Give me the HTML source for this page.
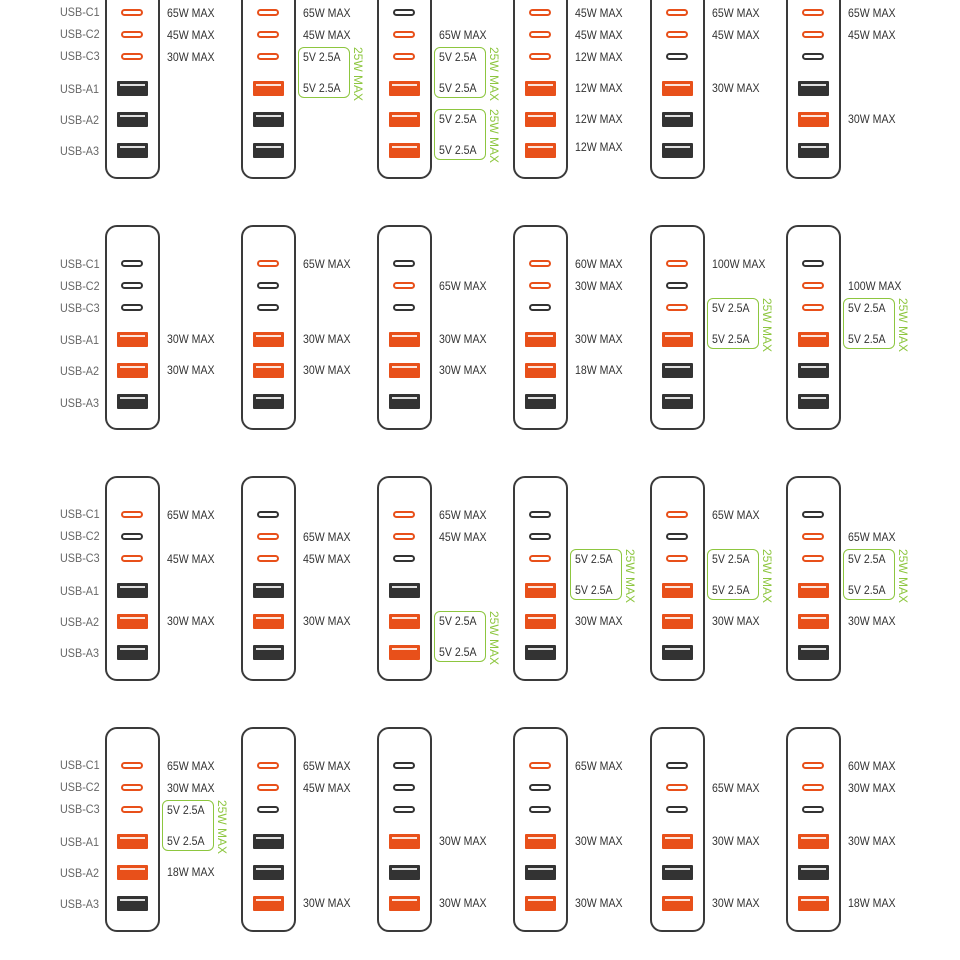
<!DOCTYPE html>
<html><head><meta charset="utf-8"><style>
body{margin:0;width:960px;height:960px;background:#fff;position:relative;overflow:hidden;font-family:"Liberation Sans",sans-serif;}
.d{position:absolute;width:55px;height:205px;box-sizing:border-box;border:2px solid #3a3a3a;border-radius:12px;}
.c{position:absolute;left:14px;top:0;width:22px;height:7px;box-sizing:border-box;border:2px solid #333;border-radius:4px;}
.a{position:absolute;left:10px;width:31px;height:15px;background:#333;border-radius:1px;}
.a:after{content:"";position:absolute;left:3px;right:3px;top:3px;height:2px;background:#fff;opacity:.85;}
.o.c{border-color:#e8501a}.o.a{background:#e8501a}
.c1{top:33px}.c2{top:55px}.c3{top:77px}.a1{top:105px}.a2{top:136px}.a3{top:167px}
.l{position:absolute;left:60px;font-size:12px;line-height:14px;color:#333;white-space:nowrap;transform:scaleX(0.88);transform-origin:0 0;}
.t1{top:30px}.t2{top:52px}.t3{top:74px}.u1{top:105px}.u2{top:136px}.u3{top:167px}
.g{position:absolute;left:55px;top:71px;width:52px;height:51px;box-sizing:border-box;border:1.5px solid #8dc63f;border-radius:6px;}
.g.lo{top:133px}
.v{position:absolute;left:108px;top:71px;height:51px;width:14px;writing-mode:vertical-rl;font-size:12px;color:#8dc63f;text-align:center;line-height:14px;white-space:nowrap;}
.v.lo{top:133px}
.n{position:absolute;left:60px;font-size:12px;color:#666;line-height:14px;transform:scaleX(0.9);transform-origin:0 0;}
</style></head><body>
<div class="n" style="top:5px">USB-C1</div><div class="n" style="top:27px">USB-C2</div><div class="n" style="top:49px">USB-C3</div><div class="n" style="top:82px">USB-A1</div><div class="n" style="top:113px">USB-A2</div><div class="n" style="top:144px">USB-A3</div>
<div class="n" style="top:257px">USB-C1</div><div class="n" style="top:279px">USB-C2</div><div class="n" style="top:301px">USB-C3</div><div class="n" style="top:333px">USB-A1</div><div class="n" style="top:364px">USB-A2</div><div class="n" style="top:396px">USB-A3</div>
<div class="n" style="top:507px">USB-C1</div><div class="n" style="top:529px">USB-C2</div><div class="n" style="top:551px">USB-C3</div><div class="n" style="top:584px">USB-A1</div><div class="n" style="top:615px">USB-A2</div><div class="n" style="top:646px">USB-A3</div>
<div class="n" style="top:758px">USB-C1</div><div class="n" style="top:780px">USB-C2</div><div class="n" style="top:802px">USB-C3</div><div class="n" style="top:835px">USB-A1</div><div class="n" style="top:866px">USB-A2</div><div class="n" style="top:897px">USB-A3</div>

<div class="d" style="left:105px;top:-26px"><div class="c o c1"></div><div class="c o c2"></div><div class="c o c3"></div><div class="a a1"></div><div class="a a2"></div><div class="a a3"></div>
<span class="l t1">65W MAX</span><span class="l t2">45W MAX</span><span class="l t3">30W MAX</span></div>
<div class="d" style="left:241px;top:-26px"><div class="c o c1"></div><div class="c o c2"></div><div class="c o c3"></div><div class="a o a1"></div><div class="a a2"></div><div class="a a3"></div>
<span class="l t1">65W MAX</span><span class="l t2">45W MAX</span><div class="g"></div><span class="l t3">5V 2.5A</span><span class="l u1">5V 2.5A</span><div class="v">25W MAX</div></div>
<div class="d" style="left:377px;top:-26px"><div class="c c1"></div><div class="c o c2"></div><div class="c o c3"></div><div class="a o a1"></div><div class="a o a2"></div><div class="a o a3"></div>
<span class="l t2">65W MAX</span><div class="g"></div><span class="l t3">5V 2.5A</span><span class="l u1">5V 2.5A</span><div class="v">25W MAX</div><div class="g lo"></div><span class="l u2">5V 2.5A</span><span class="l u3">5V 2.5A</span><div class="v lo">25W MAX</div></div>
<div class="d" style="left:513px;top:-26px"><div class="c o c1"></div><div class="c o c2"></div><div class="c o c3"></div><div class="a o a1"></div><div class="a o a2"></div><div class="a o a3"></div>
<span class="l t1">45W MAX</span><span class="l t2">45W MAX</span><span class="l t3">12W MAX</span><span class="l u1">12W MAX</span><span class="l u2">12W MAX</span><span class="l u3" style="top:164px">12W MAX</span></div>
<div class="d" style="left:650px;top:-26px"><div class="c o c1"></div><div class="c o c2"></div><div class="c c3"></div><div class="a o a1"></div><div class="a a2"></div><div class="a a3"></div>
<span class="l t1">65W MAX</span><span class="l t2">45W MAX</span><span class="l u1">30W MAX</span></div>
<div class="d" style="left:786px;top:-26px"><div class="c o c1"></div><div class="c o c2"></div><div class="c c3"></div><div class="a a1"></div><div class="a o a2"></div><div class="a a3"></div>
<span class="l t1">65W MAX</span><span class="l t2">45W MAX</span><span class="l u2">30W MAX</span></div>

<div class="d" style="left:105px;top:225px"><div class="c c1"></div><div class="c c2"></div><div class="c c3"></div><div class="a o a1"></div><div class="a o a2"></div><div class="a a3"></div>
<span class="l u1">30W MAX</span><span class="l u2">30W MAX</span></div>
<div class="d" style="left:241px;top:225px"><div class="c o c1"></div><div class="c c2"></div><div class="c c3"></div><div class="a o a1"></div><div class="a o a2"></div><div class="a a3"></div>
<span class="l t1">65W MAX</span><span class="l u1">30W MAX</span><span class="l u2">30W MAX</span></div>
<div class="d" style="left:377px;top:225px"><div class="c c1"></div><div class="c o c2"></div><div class="c c3"></div><div class="a o a1"></div><div class="a o a2"></div><div class="a a3"></div>
<span class="l t2">65W MAX</span><span class="l u1">30W MAX</span><span class="l u2">30W MAX</span></div>
<div class="d" style="left:513px;top:225px"><div class="c o c1"></div><div class="c o c2"></div><div class="c c3"></div><div class="a o a1"></div><div class="a o a2"></div><div class="a a3"></div>
<span class="l t1">60W MAX</span><span class="l t2">30W MAX</span><span class="l u1">30W MAX</span><span class="l u2">18W MAX</span></div>
<div class="d" style="left:650px;top:225px"><div class="c o c1"></div><div class="c c2"></div><div class="c o c3"></div><div class="a o a1"></div><div class="a a2"></div><div class="a a3"></div>
<span class="l t1">100W MAX</span><div class="g"></div><span class="l t3">5V 2.5A</span><span class="l u1">5V 2.5A</span><div class="v">25W MAX</div></div>
<div class="d" style="left:786px;top:225px"><div class="c c1"></div><div class="c o c2"></div><div class="c o c3"></div><div class="a o a1"></div><div class="a a2"></div><div class="a a3"></div>
<span class="l t2">100W MAX</span><div class="g"></div><span class="l t3">5V 2.5A</span><span class="l u1">5V 2.5A</span><div class="v">25W MAX</div></div>

<div class="d" style="left:105px;top:476px"><div class="c o c1"></div><div class="c c2"></div><div class="c o c3"></div><div class="a a1"></div><div class="a o a2"></div><div class="a a3"></div>
<span class="l t1">65W MAX</span><span class="l t3">45W MAX</span><span class="l u2">30W MAX</span></div>
<div class="d" style="left:241px;top:476px"><div class="c c1"></div><div class="c o c2"></div><div class="c o c3"></div><div class="a a1"></div><div class="a o a2"></div><div class="a a3"></div>
<span class="l t2">65W MAX</span><span class="l t3">45W MAX</span><span class="l u2">30W MAX</span></div>
<div class="d" style="left:377px;top:476px"><div class="c o c1"></div><div class="c o c2"></div><div class="c c3"></div><div class="a a1"></div><div class="a o a2"></div><div class="a o a3"></div>
<span class="l t1">65W MAX</span><span class="l t2">45W MAX</span><div class="g lo"></div><span class="l u2">5V 2.5A</span><span class="l u3">5V 2.5A</span><div class="v lo">25W MAX</div></div>
<div class="d" style="left:513px;top:476px"><div class="c c1"></div><div class="c c2"></div><div class="c o c3"></div><div class="a o a1"></div><div class="a o a2"></div><div class="a a3"></div>
<div class="g"></div><span class="l t3">5V 2.5A</span><span class="l u1">5V 2.5A</span><div class="v">25W MAX</div><span class="l u2">30W MAX</span></div>
<div class="d" style="left:650px;top:476px"><div class="c o c1"></div><div class="c c2"></div><div class="c o c3"></div><div class="a o a1"></div><div class="a o a2"></div><div class="a a3"></div>
<span class="l t1">65W MAX</span><div class="g"></div><span class="l t3">5V 2.5A</span><span class="l u1">5V 2.5A</span><div class="v">25W MAX</div><span class="l u2">30W MAX</span></div>
<div class="d" style="left:786px;top:476px"><div class="c c1"></div><div class="c o c2"></div><div class="c o c3"></div><div class="a o a1"></div><div class="a o a2"></div><div class="a a3"></div>
<span class="l t2">65W MAX</span><div class="g"></div><span class="l t3">5V 2.5A</span><span class="l u1">5V 2.5A</span><div class="v">25W MAX</div><span class="l u2">30W MAX</span></div>

<div class="d" style="left:105px;top:727px"><div class="c o c1"></div><div class="c o c2"></div><div class="c o c3"></div><div class="a o a1"></div><div class="a o a2"></div><div class="a a3"></div>
<span class="l t1">65W MAX</span><span class="l t2">30W MAX</span><div class="g"></div><span class="l t3">5V 2.5A</span><span class="l u1">5V 2.5A</span><div class="v">25W MAX</div><span class="l u2">18W MAX</span></div>
<div class="d" style="left:241px;top:727px"><div class="c o c1"></div><div class="c o c2"></div><div class="c c3"></div><div class="a a1"></div><div class="a a2"></div><div class="a o a3"></div>
<span class="l t1">65W MAX</span><span class="l t2">45W MAX</span><span class="l u3">30W MAX</span></div>
<div class="d" style="left:377px;top:727px"><div class="c c1"></div><div class="c c2"></div><div class="c c3"></div><div class="a o a1"></div><div class="a a2"></div><div class="a o a3"></div>
<span class="l u1">30W MAX</span><span class="l u3">30W MAX</span></div>
<div class="d" style="left:513px;top:727px"><div class="c o c1"></div><div class="c c2"></div><div class="c c3"></div><div class="a o a1"></div><div class="a a2"></div><div class="a o a3"></div>
<span class="l t1">65W MAX</span><span class="l u1">30W MAX</span><span class="l u3">30W MAX</span></div>
<div class="d" style="left:650px;top:727px"><div class="c c1"></div><div class="c o c2"></div><div class="c c3"></div><div class="a o a1"></div><div class="a a2"></div><div class="a o a3"></div>
<span class="l t2">65W MAX</span><span class="l u1">30W MAX</span><span class="l u3">30W MAX</span></div>
<div class="d" style="left:786px;top:727px"><div class="c o c1"></div><div class="c o c2"></div><div class="c c3"></div><div class="a o a1"></div><div class="a a2"></div><div class="a o a3"></div>
<span class="l t1">60W MAX</span><span class="l t2">30W MAX</span><span class="l u1">30W MAX</span><span class="l u3">18W MAX</span></div>
</body></html>
